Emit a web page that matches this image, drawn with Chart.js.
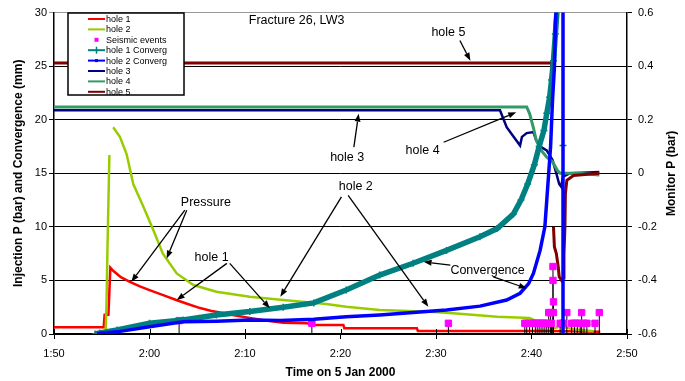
<!DOCTYPE html>
<html>
<head>
<meta charset="utf-8">
<script src="https://cdn.jsdelivr.net/npm/chart.js@4.4.0/dist/chart.umd.min.js"></script>
<style>
  html, body { margin: 0; padding: 0; background: #fff; }
  #wrap { position: relative; width: 685px; height: 381px; }
</style>
</head>
<body>
<div id="wrap"><canvas id="grafico" width="685" height="381"></canvas></div>
<script>
// Time axis in minutes after midnight (110 = 1:50)
const timeTicks = [110, 120, 130, 140, 150, 160, 170];
const timeLabels = ['1:50', '2:00', '2:10', '2:20', '2:30', '2:40', '2:50'];
const leftTicks = [0, 5, 10, 15, 20, 25, 30];
const rightTicks = [-0.6, -0.4, -0.2, 0, 0.2, 0.4, 0.6];
const rightLabels = ['-0.6', '-0.4', '-0.2', '0', '0.2', '0.4', '0.6'];

// hole 1 injection pressure (bar)
const hole1T = [110, 115.2, 115.3, 115.7, 115.9, 116.2, 117, 118, 119, 120, 121.5, 122.8, 124, 125.3, 126.5, 127.7, 129, 130.5, 132, 134, 136.5, 137.1, 140.3, 140.4, 148, 148.1, 162, 167.2];
const hole1P = [0.62, 0.62, 1.8, 1.8, 6.2, 5.9, 5.3, 4.85, 4.45, 4.1, 3.6, 3.17, 2.8, 2.42, 2.15, 1.96, 1.72, 1.49, 1.28, 1.05, 1.0, 0.84, 0.84, 0.53, 0.53, 0.28, 0.28, 0.22];

// hole 2 injection pressure (bar)
const hole2T = [115.4, 115.5, 115.6, 115.8, 115.9, 116.2, 116.9, 117.6, 118.3, 119.35, 120.4, 121.4, 122.85, 124.6, 127, 130.5, 134, 136, 138.5, 140.6, 144.1, 149.4, 151.8, 156.4, 159.8, 160.5, 161.2, 162.3, 163, 164.5, 166.5];
const hole2P = [0, 3, 8, 16.7, null, 19.3, 18.4, 16.8, 14.0, 11.9, 9.7, 7.5, 5.65, 4.57, 3.94, 3.48, 3.17, 3.0, 2.8, 2.55, 2.24, 2.08, 1.93, 1.6, 1.5, 1.2, 0.84, 0.55, 0.7, 0.45, 0.25];

// seismic events
const seismicT = [123.1, 137.0, 151.3, 159.3, 159.5, 159.8, 160.1, 160.4, 160.6, 160.8, 161.0, 161.2, 161.4, 161.6, 161.8, 162.0, 162.1, 162.25, 162.25, 162.3, 162.3, 163.0, 163.3, 163.7, 164.2, 164.5, 164.8, 165.1, 165.25, 165.5, 165.8, 166.65, 167.1];
const seismicV = [1.25, 1.0, 1.0, 1.0, 1.0, 1.0, 1.0, 1.0, 1.0, 1.0, 1.0, 1.0, 1.0, 1.0, 2.0, 2.0, 1.0, 6.3, 5.0, 3.0, 2.0, 1.0, 1.0, 2.0, 1.0, 1.0, 1.0, 1.0, 2.0, 1.0, 1.0, 1.0, 2.0];

// hole 1 convergence (mm)
const conv1T = [114.3, 114.8, 116.6, 120, 123.5, 127, 130.5, 134, 137.2, 140.6, 144.1, 147.6, 151.1, 154.6, 156.4, 158.1, 158.9, 159.6, 160.3, 160.8, 161.3, 161.6, 161.9, 162.1, 162.3, 162.5, 162.7, 162.9, 163.3];
const conv1V = [0, 0.1, 0.37, 1.0, 1.3, 1.77, 2.1, 2.5, 2.9, 4.1, 5.5, 6.6, 7.8, 9.07, 9.84, 11.2, 12.5, 14.0, 15.8, 17.5, 19.0, 20.6, 22.1, 23.7, 25.5, 28, 30.5, null, 17.6];

// hole 2 convergence (mm)
const conv2T = [114.5, 116.6, 120, 123.5, 127, 130.5, 133.7, 137.2, 140.6, 144.1, 147.6, 151.1, 154.6, 157.4, 158.8, 159.7, 160.2, 160.9, 161.4, 161.6, 161.8, 162.0, 162.2, 162.4, 162.5, 162.7, 163.3, 163.3];
const conv2V = [0.05, 0.2, 0.68, 1.15, 1.2, 1.3, 1.25, 1.37, 1.6, 1.77, 2.0, 2.24, 2.6, 3.17, 3.8, 4.7, 5.65, 7.8, 10, 12.5, 15.0, 17.5, 21.8, 24.9, 29, 32, 32, -1];

// monitor holes (bar, right axis)
const hole3T = [110, 156.7, 157.4, 157.9, 158.8, 159.0, 159.5, 160.2, 160.5, 160.9, 161.6, 162.2, 162.6, 162.9, 163.1, 163.3, 164, 167.1];
const hole3P = [0.235, 0.235, 0.172, 0.148, 0.104, 0.136, 0.15, 0.154, 0.123, 0.1, 0.085, 0.05, 0.0, -0.04, -0.05, -0.012, 0.0, 0.005];
const hole4T = [110, 159.5, 159.8, 160.2, 160.5, 161.0, 161.6, 162.2, 162.7, 163.0, 164.9, 167.1];
const hole4P = [0.248, 0.248, 0.223, 0.17, 0.123, 0.086, 0.06, 0.043, 0.011, 0.0, 0.0, -0.006];
const hole5T = [110, 162.1, 162.15, 162.2, 162.3, 162.4, 162.6, 162.8, 162.9, 163.15, 163.35, 163.4, 163.5, 163.55, 163.7, 164.4, 167.1];
const hole5P = [0.412, 0.412, 0.317, null, -0.2, -0.275, -0.3, -0.35, -0.386, -0.4, -0.39, -0.3, -0.2, -0.076, -0.026, -0.008, 0.0];

// text notes and arrows (in time / left axis units)
const noteText = ['Fracture 26, LW3', 'hole 5', 'hole 3', 'hole 4', 'hole 2', 'Pressure', 'hole 1', 'Convergence'];
const noteT = [135.4, 151.3, 140.7, 148.6, 141.6, 125.9, 126.5, 155.4];
const noteV = [29.26, 28.15, 16.5, 17.15, 13.8, 12.3, 7.18, 5.96];
const arrowFrom = [[152.5, 27.4], [141.4, 17.45], [150.8, 17.9], [140.1, 12.8], [140.8, 12.95], [123.7, 11.56], [123.9, 11.56], [128.1, 6.59], [128.4, 6.59], [151.5, 6.43], [156.0, 5.34]];
const arrowTo = [[153.6, 25.5], [141.9, 20.57], [158.4, 20.7], [133.7, 3.48], [149.2, 2.54], [118.1, 4.87], [121.8, 7.05], [122.85, 3.17], [132.6, 2.4], [148.7, 6.74], [159.5, 4.26]];

const FONT = '"Liberation Sans", Arial, sans-serif';

function pares(ts, vs) {
    return ts.map((t, i) => ({ x: t, y: vs[i] }));
}

// stems from each seismic event down to the axis
const stems = [];
seismicT.forEach((t, i) => {
    stems.push({ x: t, y: 0 }, { x: t, y: seismicV[i] }, { x: t, y: null });
});

function arrow(ctx, x1, y1, x2, y2) {
    const ang = Math.atan2(y2 - y1, x2 - x1);
    const len = 8, half = 3;
    const bx = x2 - len * Math.cos(ang), by = y2 - len * Math.sin(ang);
    ctx.beginPath();
    ctx.moveTo(x1, y1);
    ctx.lineTo(bx, by);
    ctx.stroke();
    ctx.beginPath();
    ctx.moveTo(x2, y2);
    ctx.lineTo(bx + half * Math.sin(ang), by - half * Math.cos(ang));
    ctx.lineTo(bx - half * Math.sin(ang), by + half * Math.cos(ang));
    ctx.closePath();
    ctx.fill();
}

const notas = {
    id: 'notas',
    afterDatasetsDraw(chart) {
        const ctx = chart.ctx;
        const sx = chart.scales.x, sy = chart.scales.y;
        const area = chart.chartArea;
        ctx.save();
        // inner tick marks on time axis
        ctx.strokeStyle = '#000';
        ctx.lineWidth = 1;
        timeTicks.forEach(v => {
            const px = Math.round(sx.getPixelForValue(v)) + 0.5;
            ctx.beginPath();
            ctx.moveTo(px, area.bottom);
            ctx.lineTo(px, area.bottom - 5);
            ctx.stroke();
        });
        // arrows
        ctx.fillStyle = '#000';
        ctx.lineWidth = 1.3;
        arrowFrom.forEach((a, i) => {
            const b = arrowTo[i];
            arrow(ctx, sx.getPixelForValue(a[0]), sy.getPixelForValue(a[1]),
                  sx.getPixelForValue(b[0]), sy.getPixelForValue(b[1]));
        });
        // labels
        ctx.font = '12.5px ' + FONT;
        ctx.textAlign = 'center';
        ctx.textBaseline = 'middle';
        noteText.forEach((txt, i) => {
            ctx.fillText(txt, sx.getPixelForValue(noteT[i]), sy.getPixelForValue(noteV[i]));
        });
        // right axis title, reading bottom to top
        ctx.save();
        ctx.translate(672, (area.top + area.bottom) / 2);
        ctx.rotate(-Math.PI / 2);
        ctx.font = 'bold 12px ' + FONT;
        ctx.fillText('Monitor P (bar)', 0, 0);
        ctx.restore();
        ctx.restore();
    },
    afterDraw(chart) {
        const ctx = chart.ctx;
        const bx = 68, by = 13, bw = 116, bh = 82;
        ctx.save();
        ctx.fillStyle = '#fff';
        ctx.fillRect(bx, by, bw, bh);
        ctx.beginPath();
        ctx.rect(bx, by, bw, bh);
        ctx.clip();
        ctx.font = '9px ' + FONT;
        ctx.textBaseline = 'middle';
        ctx.textAlign = 'left';
        chart.data.datasets.filter(d => d.legendKind).forEach((d, i) => {
            const cy = 19 + i * 10.4;
            const x1 = 88, x2 = 105, cx = 96.5;
            ctx.strokeStyle = d.borderColor;
            ctx.fillStyle = d.borderColor;
            if (d.legendKind === 'dot') {
                ctx.fillRect(cx - 2, cy - 2, 4, 4);
            } else {
                ctx.lineWidth = 2;
                ctx.beginPath();
                ctx.moveTo(x1, cy);
                ctx.lineTo(x2, cy);
                ctx.stroke();
                if (d.legendKind === 'cross') {
                    ctx.lineWidth = 1.5;
                    ctx.beginPath();
                    ctx.moveTo(cx, cy - 3.5);
                    ctx.lineTo(cx, cy + 3.5);
                    ctx.stroke();
                } else if (d.legendKind === 'mark') {
                    ctx.fillRect(cx - 1.5, cy - 1.5, 3, 3);
                }
            }
            ctx.fillStyle = '#000';
            ctx.fillText(d.label, 106, cy + 0.5);
        });
        ctx.restore();
        ctx.save();
        ctx.strokeStyle = '#000';
        ctx.lineWidth = 1.5;
        ctx.strokeRect(bx, by, bw, bh);
        ctx.restore();
    }
};

function linha(label, data, color, width, axis, order, kind) {
    return {
        label: label,
        data: data,
        borderColor: color,
        backgroundColor: color,
        borderWidth: width,
        pointRadius: 0,
        tension: 0,
        yAxisID: axis,
        order: order,
        legendKind: kind
    };
}

const conv1 = linha('hole 1 Converg', pares(conv1T, conv1V), '#008080', 5.5, 'y', 1, 'cross');
conv1.pointStyle = 'cross';
conv1.pointRadius = 3.5;
conv1.pointBorderWidth = 1.5;

const datasets = [
    linha('hole 1', pares(hole1T, hole1P), '#FF0000', 2.5, 'y', 8, 'line'),
    linha('hole 2', pares(hole2T, hole2P), '#99CC00', 2.5, 'y', 7, 'line'),
    {
        label: 'Seismic events',
        data: pares(seismicT, seismicV),
        showLine: false,
        pointStyle: 'rect',
        pointRadius: 4.5,
        borderColor: '#FF00FF',
        backgroundColor: '#FF00FF',
        yAxisID: 'y',
        order: 2,
        legendKind: 'dot'
    },
    conv1,
    linha('hole 2 Converg', pares(conv2T, conv2V), '#0000FF', 3.5, 'y', 0, 'mark'),
    linha('hole 3', pares(hole3T, hole3P), '#000080', 2.5, 'y1', 6, 'line'),
    linha('hole 4', pares(hole4T, hole4P), '#339966', 3, 'y1', 5, 'line'),
    linha('hole 5', pares(hole5T, hole5P), '#800000', 3, 'y1', 4, 'line'),
    {
        label: 'stems',
        data: stems,
        borderColor: '#000',
        borderWidth: 1,
        pointRadius: 0,
        yAxisID: 'y',
        order: 3
    }
];

const tickFont = { family: FONT, size: 11 };
const titleFont = { family: FONT, size: 12, weight: 'bold' };

new Chart(document.getElementById('grafico').getContext('2d'), {
    type: 'line',
    data: { datasets: datasets },
    options: {
        responsive: false,
        animation: false,
        devicePixelRatio: 1,
        layout: { padding: { top: 12, left: 0, right: 0, bottom: 0 } },
        plugins: {
            legend: { display: false },
            tooltip: { enabled: false }
        },
        scales: {
            x: {
                type: 'linear',
                position: 'bottom',
                min: 110,
                max: 170,
                afterBuildTicks: s => { s.ticks = timeTicks.map(v => ({ value: v })); },
                afterFit: s => { s.height = 47; },
                ticks: {
                    callback: (v, i) => timeLabels[i],
                    font: tickFont, color: '#000', padding: 8,
                    maxRotation: 0, autoSkip: false
                },
                grid: { drawOnChartArea: false, tickLength: 5, color: '#000' },
                border: { color: '#000', width: 1.5 },
                title: {
                    display: true, text: 'Time on 5 Jan 2000',
                    font: titleFont, color: '#000', padding: { top: 0, bottom: 1 }
                }
            },
            y: {
                position: 'left',
                min: 0,
                max: 30,
                afterBuildTicks: s => { s.ticks = leftTicks.map(v => ({ value: v })); },
                afterFit: s => { s.width = 54; },
                ticks: { callback: v => String(v), font: tickFont, color: '#000', padding: 2 },
                grid: {
                    tickLength: 5,
                    color: c => (c.tick && c.tick.value === 30 ? '#999' : '#000'),
                    lineWidth: 1
                },
                border: { color: '#000', width: 1.5 },
                title: {
                    display: true, text: 'Injection P (bar) and Convergence (mm)',
                    font: titleFont, color: '#000', padding: { top: 11, bottom: 0 }
                }
            },
            y1: {
                position: 'right',
                min: -0.6,
                max: 0.6,
                afterBuildTicks: s => { s.ticks = rightTicks.map(v => ({ value: v })); },
                afterFit: s => { s.width = 58; },
                ticks: { callback: (v, i) => rightLabels[i], font: tickFont, color: '#000', padding: 6 },
                grid: { drawOnChartArea: false, tickLength: 5, color: '#000' },
                border: { color: '#000', width: 1.5 }
            }
        }
    },
    plugins: [notas]
});
</script>
</body>
</html>
